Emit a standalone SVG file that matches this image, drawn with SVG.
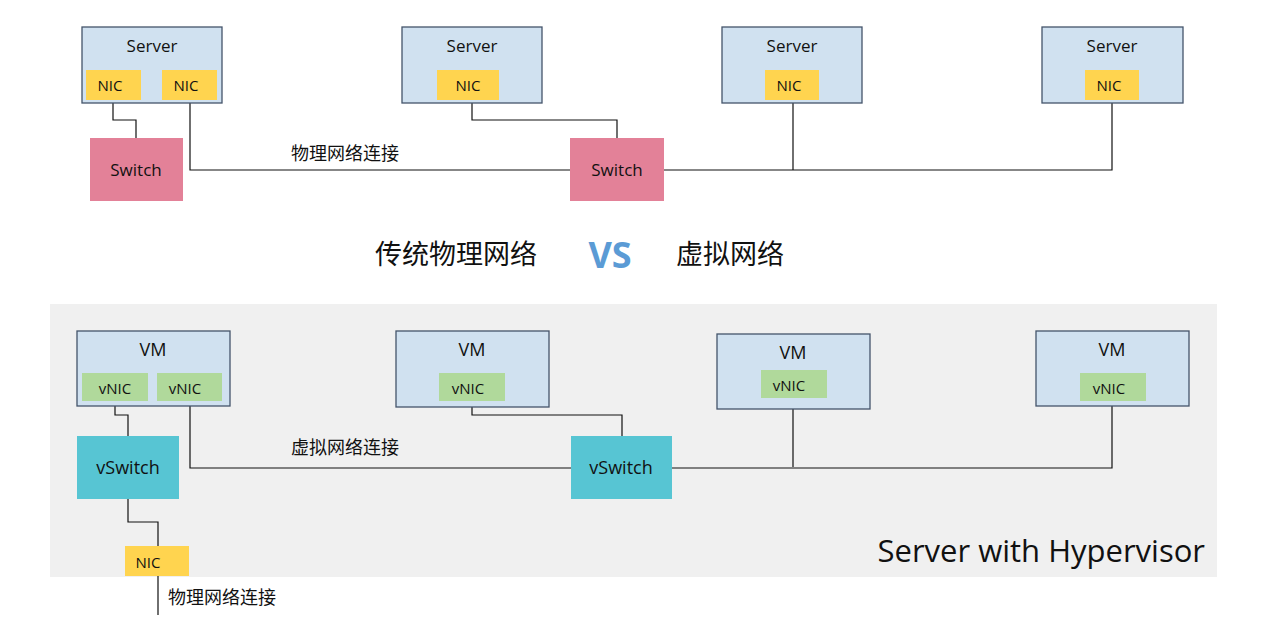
<svg xmlns="http://www.w3.org/2000/svg" width="1288" height="623" viewBox="0 0 1288 623">
<style>
text{font-family:"Open Sans","Noto Sans CJK SC",sans-serif;fill:#111}
.srv{fill:#d0e1f0;stroke:#44546a;stroke-width:1.3}
.nic{fill:#ffd44f}
.vnic{fill:#b0d99b}
.sw{fill:#e38198}
.vsw{fill:#57c5d3}
.c{fill:none;stroke:#111;stroke-width:1.2}
.t16{font-size:17px;text-anchor:middle}
.t14{font-size:15px;text-anchor:middle}
.t17{font-size:18px;text-anchor:middle}
.cj{font-size:18px}
</style>
<rect x="50" y="304" width="1167" height="273" fill="#f0f0f0"/>
<g id="connectors">
<path class="c" d="M113 100V120H136V138M190 100V170H570M472 100V120H617V138M664 170H1112V100M793 100V170"/>
<path class="c" d="M115 401V415H128V436M190 401V468H571M472 401V415H622V436M672 468H1112V401M793 398V467M128 499V522H158V546M158 576V615"/>
</g>
<g id="server1"><rect class="srv" x="82" y="27" width="140" height="76"/><text class="t16" x="152" y="52">Server</text>
<rect class="nic" x="86" y="70" width="55" height="30"/><text class="t14" x="110" y="91">NIC</text>
<rect class="nic" x="162" y="70" width="55" height="30"/><text class="t14" x="186" y="91">NIC</text></g>
<g id="server2"><rect class="srv" x="402" y="27" width="140" height="76"/><text class="t16" x="472" y="52">Server</text>
<rect class="nic" x="437" y="70" width="62" height="30"/><text class="t14" x="468" y="91">NIC</text></g>
<g id="server3"><rect class="srv" x="722" y="27" width="140" height="76"/><text class="t16" x="792" y="52">Server</text>
<rect class="nic" x="765" y="70" width="54" height="30"/><text class="t14" x="789" y="91">NIC</text></g>
<g id="server4"><rect class="srv" x="1042" y="27" width="141" height="76"/><text class="t16" x="1112" y="52">Server</text>
<rect class="nic" x="1085" y="70" width="54" height="30"/><text class="t14" x="1109" y="91">NIC</text></g>
<g id="switch1"><rect class="sw" x="90" y="138" width="93" height="63"/><text class="t16" x="136" y="176">Switch</text></g>
<g id="switch2"><rect class="sw" x="570" y="138" width="94" height="63"/><text class="t16" x="617" y="176">Switch</text></g>
<text x="291" y="160" class="cj">物理网络连接</text>
<text x="375" y="264" style="font-size:27px">传统物理网络</text>
<text x="610" y="268" style="font-size:36px;text-anchor:middle;fill:#5b9bd5;font-weight:bold">VS</text>
<text x="676" y="264" style="font-size:27px">虚拟网络</text>
<g id="vm1"><rect class="srv" x="77" y="331" width="153" height="75"/><text class="t17" x="153" y="356">VM</text>
<rect class="vnic" x="82" y="373" width="66" height="28"/><text class="t14" x="115" y="394">vNIC</text>
<rect class="vnic" x="157" y="373" width="65" height="28"/><text class="t14" x="185" y="394">vNIC</text></g>
<g id="vm2"><rect class="srv" x="396" y="331" width="153" height="76"/><text class="t17" x="472" y="356">VM</text>
<rect class="vnic" x="439" y="373" width="66" height="28"/><text class="t14" x="468" y="394">vNIC</text></g>
<g id="vm3"><rect class="srv" x="717" y="334" width="153" height="75"/><text class="t17" x="793" y="359">VM</text>
<rect class="vnic" x="761" y="370" width="66" height="28"/><text class="t14" x="789" y="391">vNIC</text></g>
<g id="vm4"><rect class="srv" x="1036" y="331" width="153" height="75"/><text class="t17" x="1112" y="356">VM</text>
<rect class="vnic" x="1080" y="373" width="66" height="28"/><text class="t14" x="1109" y="394">vNIC</text></g>
<g id="vswitch1"><rect class="vsw" x="77" y="436" width="102" height="63"/><text class="t17" x="128" y="474">vSwitch</text></g>
<g id="vswitch2"><rect class="vsw" x="571" y="436" width="101" height="63"/><text class="t17" x="621" y="474">vSwitch</text></g>
<text x="291" y="454" class="cj">虚拟网络连接</text>
<g id="nic-phys"><rect class="nic" x="125" y="546" width="64" height="30"/><text class="t14" x="148" y="568">NIC</text></g>
<text x="168" y="604" class="cj">物理网络连接</text>
<text x="1205" y="562" style="font-size:31px;text-anchor:end">Server with Hypervisor</text>
</svg>
